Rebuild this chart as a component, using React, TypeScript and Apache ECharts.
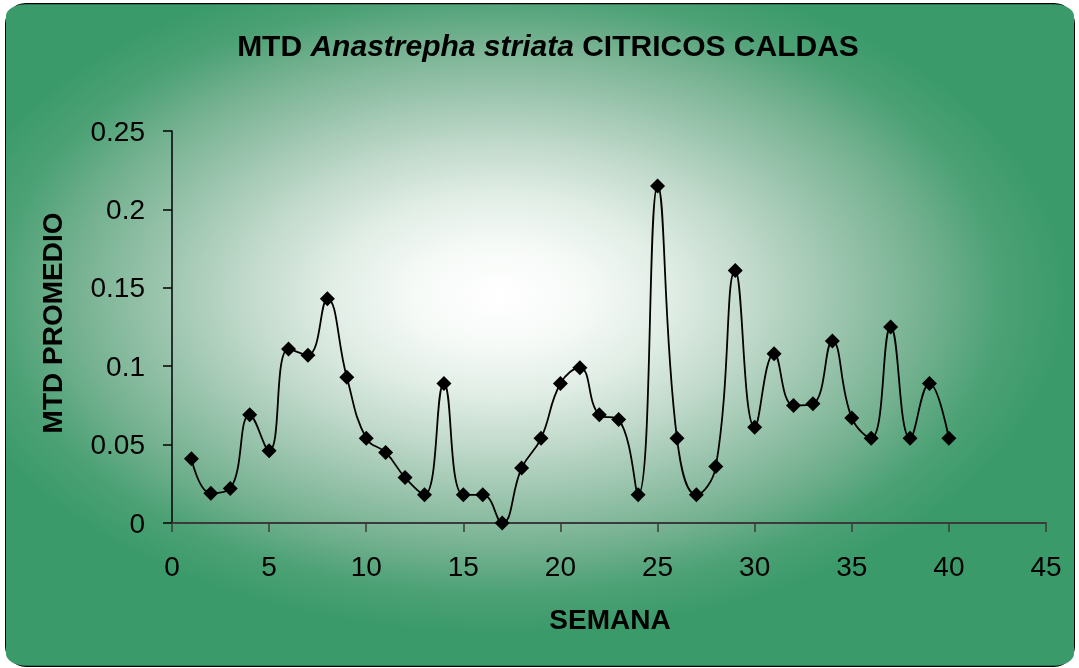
import React, { useEffect, useRef } from "react";
import * as echarts from "echarts";

const weeks = [1,2,3,4,5,6,7,8,9,10,11,12,13,14,15,16,17,18,19,20,21,22,23,24,25,26,27,28,29,30,31,32,33,34,35,36,37,38,39,40];
const mtd = [0.041,0.019,0.022,0.069,0.046,0.111,0.107,0.143,0.093,0.054,0.045,0.029,0.018,0.089,0.018,0.018,0.0,0.035,0.054,0.089,0.099,0.069,0.066,0.018,0.215,0.054,0.018,0.036,0.161,0.061,0.108,0.075,0.076,0.116,0.067,0.054,0.125,0.054,0.089,0.054];
const xTicks = { min: 0, max: 45, interval: 5 };
const yTicks = { min: 0, max: 0.25, interval: 0.05 };
const titleParts = ["MTD ", "Anastrepha striata", " CITRICOS CALDAS"];
const xName = "SEMANA";
const yName = "MTD PROMEDIO";

const FONT = "'Liberation Sans', Arial, sans-serif";

export default function App() {
  const ref = useRef<HTMLDivElement>(null);
  useEffect(() => {
    const chart = echarts.init(ref.current!, null, { renderer: "svg" });
    const cx = 500, cy = 295, rx = 570, ry = 340;
    const s = ry / rx;
    const bx = 6, by = 4, bw = 1068, bh = 662;
    chart.setOption({
      animation: false,
      graphic: [
        {
          type: "group",
          x: 0,
          y: cy,
          scaleY: s,
          z: -10,
          silent: true,
          children: [
            {
              type: "rect",
              shape: { x: bx, y: (by - cy) / s, width: bw, height: bh / s, r: 20 },
              style: {
                fill: {
                  type: "radial",
                  x: cx,
                  y: 0,
                  r: rx,
                  global: true,
                  colorStops: [
                    { offset: 0, color: "#ffffff" },
                    { offset: 0.15, color: "#f6faf7" },
                    { offset: 0.3, color: "#e0ede5" },
                    { offset: 0.45, color: "#c0d9ca" },
                    { offset: 0.6, color: "#9ac4ad" },
                    { offset: 0.75, color: "#74b190" },
                    { offset: 0.88, color: "#4ca175" },
                    { offset: 1, color: "#3a9a6a" },
                  ],
                },
              },
            },
          ],
        },
        {
          type: "rect",
          z: -9,
          silent: true,
          shape: { x: bx, y: by, width: bw, height: bh, r: 20 },
          style: { fill: "none", stroke: "#000", lineWidth: 2 },
        },
        {
          type: "text",
          x: 548,
          y: 45,
          style: {
            text: `{a|${titleParts[0]}}{b|${titleParts[1]}}{a|${titleParts[2]}}`,
            align: "center",
            verticalAlign: "middle",
            fontSize: 30,
            fontWeight: "bold",
            fontFamily: FONT,
            fill: "#000",
            rich: {
              a: { fontSize: 30, fontWeight: "bold", fontFamily: FONT, fill: "#000", color: "#000" },
              b: { fontSize: 30, fontWeight: "bold", fontStyle: "italic", fontFamily: FONT, fill: "#000", color: "#000" },
            },
          },
        },
        {
          type: "text",
          x: 610,
          y: 619,
          style: {
            text: xName,
            align: "center",
            verticalAlign: "middle",
            fontSize: 28,
            fontWeight: "bold",
            fontFamily: FONT,
            fill: "#000",
          },
        },
        {
          type: "text",
          x: 52,
          y: 323,
          rotation: Math.PI / 2,
          style: {
            text: yName,
            align: "center",
            verticalAlign: "middle",
            fontSize: 28,
            fontWeight: "bold",
            fontFamily: FONT,
            fill: "#000",
          },
        },
      ],
      grid: { left: 172, right: 33, top: 131, bottom: 145, containLabel: false },
      xAxis: {
        type: "value",
        min: xTicks.min,
        max: xTicks.max,
        interval: xTicks.interval,
        axisLine: { show: true, lineStyle: { color: "#3a3a3a", width: 2 } },
        axisTick: { show: true, inside: false, length: 9, lineStyle: { color: "#3a3a3a", width: 1.5 } },
        splitLine: { show: false },
        axisLabel: { margin: 29, fontSize: 28, fontFamily: FONT, color: "#000" },
      },
      yAxis: {
        type: "value",
        min: yTicks.min,
        max: yTicks.max,
        interval: yTicks.interval,
        axisLine: { show: true, lineStyle: { color: "#000", width: 1.5 } },
        axisTick: { show: true, inside: false, length: 9, lineStyle: { color: "#000", width: 1.5 } },
        splitLine: { show: false },
        axisLabel: {
          margin: 27,
          fontSize: 28,
          fontFamily: FONT,
          color: "#000",
          formatter: (v: number) => String(+v.toFixed(2)),
        },
      },
      series: [
        {
          type: "line",
          data: weeks.map((w, i) => [w, mtd[i]]),
          smooth: 0.45,
          symbol: "diamond",
          symbolSize: 15,
          itemStyle: { color: "#000" },
          lineStyle: { color: "#000", width: 1.8 },
        },
      ],
    });
    return () => chart.dispose();
  }, []);
  return <div ref={ref} style={{ position: "fixed", left: 0, top: 0, width: 1079, height: 668 }} />;
}
